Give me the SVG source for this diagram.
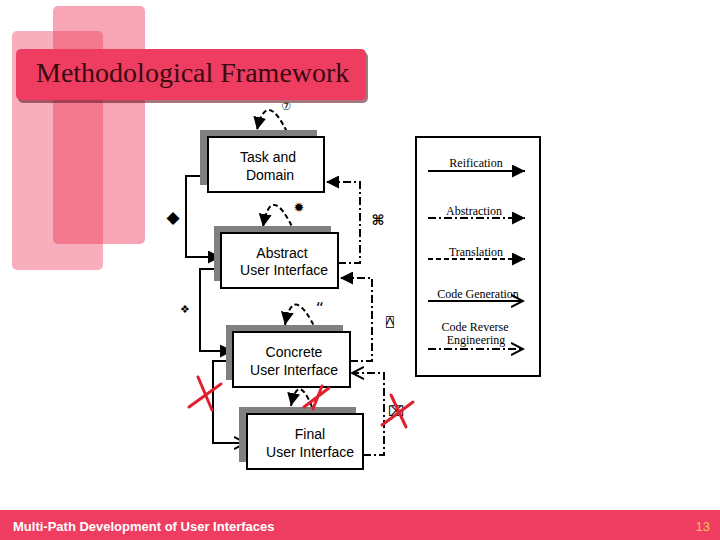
<svg xmlns="http://www.w3.org/2000/svg" width="720" height="540" viewBox="0 0 720 540">
<style>
.node rect.box{fill:#fff;stroke:#000;stroke-width:2}
.node rect.sh{fill:#808080}
.nt{font-family:"Liberation Sans",Arial,sans-serif;font-size:14px;fill:#000;text-anchor:middle}
.lt{font-family:"Liberation Serif","Times New Roman",serif;font-size:12px;fill:#000;text-anchor:middle}
.sym{font-family:"DejaVu Sans","DejaVu Sans Mono",sans-serif;fill:#000;text-anchor:middle}
.solid{fill:none;stroke:#000;stroke-width:2}
.dashdot{fill:none;stroke:#000;stroke-width:2;stroke-dasharray:8 3 2 3}
.dashed{fill:none;stroke:#000;stroke-width:2;stroke-dasharray:5 3}
.redx{fill:none;stroke:#e0202e;stroke-width:3;stroke-linecap:round}
</style>
<defs>
<marker id="fill" markerUnits="userSpaceOnUse" markerWidth="13" markerHeight="13" refX="12" refY="6" orient="auto" viewBox="0 0 12 12">
<path d="M0,0 L12,6 L0,12 z" fill="#000"/>
</marker>
<marker id="open" markerUnits="userSpaceOnUse" markerWidth="14" markerHeight="14" refX="12" refY="6" orient="auto" viewBox="0 0 14 12">
<path d="M0,0 L12,6 L0,12" fill="none" stroke="#000" stroke-width="2"/>
</marker>
</defs>
<rect width="720" height="540" fill="#fff"/>
<g id="background">
<rect x="12" y="31" width="91" height="239" rx="5" fill="#ee3d60" fill-opacity="0.42"/>
<rect x="53" y="6" width="92" height="238" rx="5" fill="#ee3d60" fill-opacity="0.47"/>
</g>
<g id="title">
<rect x="18" y="52" width="350" height="51" rx="5" fill="#6a1a28" fill-opacity="0.6"/>
<rect x="16" y="49" width="350" height="51" rx="5" fill="#ee3d60"/>
<text x="36" y="82" font-family="'Liberation Serif','Times New Roman',serif" font-size="28" fill="#3a0a10">Methodological Framework</text>
</g>
<g id="legend">
<rect x="416" y="137" width="124" height="239" fill="#fff" stroke="#000" stroke-width="2"/>
<text class="lt" x="476" y="167">Reification</text>
<line class="solid" x1="428" y1="171" x2="525" y2="171" marker-end="url(#fill)"/>
<text class="lt" x="474" y="215">Abstraction</text>
<line class="dashdot" x1="428" y1="218" x2="525" y2="218" marker-end="url(#fill)"/>
<text class="lt" x="476" y="256">Translation</text>
<line class="dashed" x1="428" y1="259" x2="525" y2="259" marker-end="url(#fill)"/>
<text class="lt" x="478" y="298">Code Generation</text>
<line class="solid" x1="428" y1="301" x2="523" y2="301" marker-end="url(#open)"/>
<text class="lt" x="475" y="331" font-size="11.5">Code Reverse</text>
<text class="lt" x="476" y="344" font-size="11.5">Engineering</text>
<line class="dashdot" x1="428" y1="349" x2="523" y2="349" marker-end="url(#open)"/>
</g>
<g id="connectors">
<path class="solid" d="M200,176 L186,176 L186,257 L221,257" marker-end="url(#fill)"/>
<path class="solid" d="M214,269 L200,269 L200,351 L233,351" marker-end="url(#fill)"/>
<path class="solid" d="M233,361 L213,361 L213,443 L246,443" marker-end="url(#open)"/>
<path class="dashdot" d="M338,263 L360,263 L360,182 L326,182" marker-end="url(#fill)"/>
<path class="dashdot" d="M350,361 L372,361 L372,278 L340,278" marker-end="url(#fill)"/>
<path class="dashdot" d="M363,455 L384,455 L384,373 L352,373" marker-end="url(#open)"/>
<path class="dashed" d="M287,132 Q266,89 257,130" marker-end="url(#fill)"/>
<path class="dashed" d="M295,233 Q271,180 263,227" marker-end="url(#fill)"/>
<path class="dashed" d="M317,332 Q293,281 285,325" marker-end="url(#fill)"/>
<path class="dashed" d="M312,407 Q298,372 291,406" marker-end="url(#fill)"/>
</g>
<g id="node-task" class="node">
<rect class="sh" x="200" y="130" width="117" height="55"/>
<rect class="box" x="208" y="137" width="116" height="55"/>
<text class="nt" x="268" y="162">Task and</text>
<text class="nt" x="270" y="180">Domain</text>
</g>
<g id="node-abstract" class="node">
<rect class="sh" x="214" y="226" width="117" height="55"/>
<rect class="box" x="221" y="233" width="117" height="55"/>
<text class="nt" x="282" y="258">Abstract</text>
<text class="nt" x="284" y="275">User Interface</text>
</g>
<g id="node-concrete" class="node">
<rect class="sh" x="226" y="325" width="117" height="55"/>
<rect class="box" x="233" y="332" width="117" height="55"/>
<text class="nt" x="294" y="357">Concrete</text>
<text class="nt" x="294" y="375">User Interface</text>
</g>
<g id="node-final" class="node">
<rect class="sh" x="239" y="407" width="117" height="55"/>
<rect class="box" x="247" y="414" width="116" height="55"/>
<text class="nt" x="310" y="439">Final</text>
<text class="nt" x="310" y="457">User Interface</text>
</g>
<g id="symbols">
<text class="sym" x="173" y="223" font-size="17">◆</text>
<text class="sym" x="185" y="313" font-size="11">❖</text>
<text class="sym" x="286" y="110" font-size="11">⑦</text>
<text class="sym" x="299" y="212" font-size="13">✹</text>
<text class="sym" x="378" y="225" font-size="14" font-weight="bold">⌘</text>
<text class="sym" x="320" y="314" font-size="16">“</text>
<text class="sym" x="390" y="327" font-size="13">⍓</text>
<text class="sym" x="396" y="416" font-size="14">⌧</text>
</g>
<g id="red-marks">
<path class="redx" d="M198,377 L212,410 M189,407 L221,384"/>
<path class="redx" d="M304,407 L329,388 M313,409 L322,386"/>
<path class="redx" d="M382,425 L413,402 M391,395 L406,427"/>
</g>
<g id="footer">
<rect x="0" y="510" width="720" height="30" fill="#ee3d60"/>
<text x="13" y="531" font-family="'Liberation Sans',Arial,sans-serif" font-size="13" font-weight="bold" fill="#fff">Multi-Path Development of User Interfaces</text>
<text x="710" y="531" text-anchor="end" font-family="'Liberation Sans',Arial,sans-serif" font-size="13" fill="#f5c060">13</text>
</g>
</svg>
